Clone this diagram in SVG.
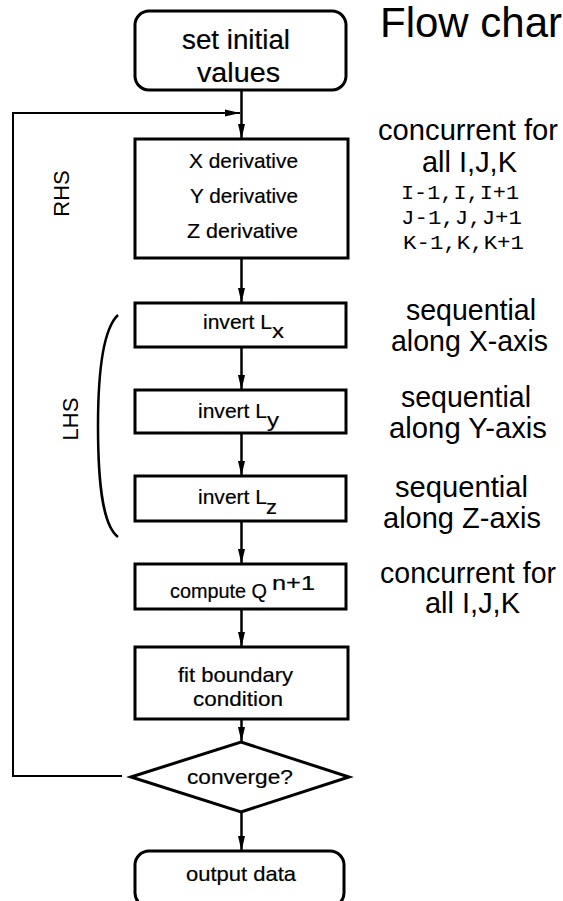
<svg xmlns="http://www.w3.org/2000/svg" width="563" height="901" viewBox="0 0 563 901">
<style>
text{font-family:"Liberation Sans",Arial,sans-serif;fill:#000}
.box{fill:#fff;stroke:#000;stroke-width:3}
.bt{font-size:21px;stroke:#000;stroke-width:0.2}
.big{font-size:27px}
.rt{font-size:29px}
.mono{font-family:"Liberation Mono","Courier New",monospace;font-size:20px}
.conn{fill:none;stroke:#000;stroke-width:2.5}
.loop{fill:none;stroke:#000;stroke-width:2}
</style>
<defs>
<marker id="ah" markerUnits="userSpaceOnUse" markerWidth="16" markerHeight="8" refX="15" refY="4" orient="auto">
<path d="M0,0.5 L15,4 L0,7.5 z" fill="#000"/>
</marker>
</defs>
<rect width="563" height="901" fill="#fff"/>

<g id="connectors">
<line class="conn" x1="241.5" y1="90" x2="241.5" y2="139" marker-end="url(#ah)"/>
<line class="conn" x1="241.5" y1="258" x2="241.5" y2="303" marker-end="url(#ah)"/>
<line class="conn" x1="241.5" y1="347" x2="241.5" y2="390" marker-end="url(#ah)"/>
<line class="conn" x1="241.5" y1="433" x2="241.5" y2="476" marker-end="url(#ah)"/>
<line class="conn" x1="241.5" y1="521" x2="241.5" y2="564" marker-end="url(#ah)"/>
<line class="conn" x1="241.5" y1="609" x2="241.5" y2="647" marker-end="url(#ah)"/>
<line class="conn" x1="241.5" y1="719" x2="241.5" y2="742" marker-end="url(#ah)"/>
<line class="conn" x1="241.5" y1="812" x2="241.5" y2="851" marker-end="url(#ah)"/>
<polyline class="loop" points="122,776 13,776 13,113 240,113" marker-end="url(#ah)"/>
</g>

<g id="set-initial">
<rect class="box" x="135" y="11" width="211" height="79" rx="14"/>
<text class="bt big" x="182" y="49" textLength="108" lengthAdjust="spacingAndGlyphs">set initial</text>
<text class="bt big" x="197" y="82" textLength="83" lengthAdjust="spacingAndGlyphs">values</text>
</g>

<g id="derivatives">
<rect class="box" x="135" y="139" width="213" height="119"/>
<text class="bt" x="189" y="168" textLength="109" lengthAdjust="spacingAndGlyphs">X derivative</text>
<text class="bt" x="190" y="203" textLength="108" lengthAdjust="spacingAndGlyphs">Y derivative</text>
<text class="bt" x="187" y="238" textLength="111" lengthAdjust="spacingAndGlyphs">Z derivative</text>
</g>

<g id="invert-lx">
<rect class="box" x="135" y="303" width="211" height="44"/>
<text class="bt" x="203" y="329" font-size="20" textLength="69" lengthAdjust="spacingAndGlyphs">invert L</text>
<text class="bt" x="272" y="338" font-size="18" textLength="12" lengthAdjust="spacingAndGlyphs">x</text>
</g>

<g id="invert-ly">
<rect class="box" x="135" y="390" width="211" height="43"/>
<text class="bt" x="198" y="418" font-size="20" textLength="69" lengthAdjust="spacingAndGlyphs">invert L</text>
<text class="bt" x="267" y="427" font-size="18" textLength="12" lengthAdjust="spacingAndGlyphs">y</text>
</g>

<g id="invert-lz">
<rect class="box" x="135" y="476" width="211" height="45"/>
<text class="bt" x="198" y="504" font-size="20" textLength="69" lengthAdjust="spacingAndGlyphs">invert L</text>
<text class="bt" x="266" y="514" font-size="18" textLength="11" lengthAdjust="spacingAndGlyphs">z</text>
</g>

<g id="compute-q">
<rect class="box" x="135" y="564" width="211" height="45"/>
<text class="bt" x="170" y="598" textLength="97" lengthAdjust="spacingAndGlyphs">compute Q</text>
<text class="bt" x="272" y="590" font-size="18" textLength="43" lengthAdjust="spacingAndGlyphs">n+1</text>
</g>

<g id="fit-boundary">
<rect class="box" x="135" y="647" width="213" height="72"/>
<text class="bt" x="178" y="682" textLength="115" lengthAdjust="spacingAndGlyphs">fit boundary</text>
<text class="bt" x="193" y="706" textLength="90" lengthAdjust="spacingAndGlyphs">condition</text>
</g>

<g id="converge">
<polygon class="box" points="131,777 241,742 349,777 241,812"/>
<text class="bt" x="187" y="784" textLength="106" lengthAdjust="spacingAndGlyphs">converge?</text>
</g>

<g id="output-data">
<rect class="box" x="135" y="851" width="209" height="56" rx="14"/>
<text class="bt" x="186" y="881" textLength="110" lengthAdjust="spacingAndGlyphs">output data</text>
</g>

<g id="labels">
<text x="380" y="37" font-size="42">Flow char</text>
<text class="rt" x="378" y="140" textLength="180" lengthAdjust="spacingAndGlyphs">concurrent for</text>
<text class="rt" x="422" y="172" textLength="95" lengthAdjust="spacingAndGlyphs">all I,J,K</text>
<text class="mono" x="401" y="199" textLength="118" lengthAdjust="spacingAndGlyphs">I-1,I,I+1</text>
<text class="mono" x="401" y="224" textLength="121" lengthAdjust="spacingAndGlyphs">J-1,J,J+1</text>
<text class="mono" x="403" y="249" textLength="121" lengthAdjust="spacingAndGlyphs">K-1,K,K+1</text>
<text class="rt" x="406" y="320" textLength="130" lengthAdjust="spacingAndGlyphs">sequential</text>
<text class="rt" x="391" y="351" textLength="157" lengthAdjust="spacingAndGlyphs">along X-axis</text>
<text class="rt" x="401" y="407" textLength="130" lengthAdjust="spacingAndGlyphs">sequential</text>
<text class="rt" x="389" y="438" textLength="158" lengthAdjust="spacingAndGlyphs">along Y-axis</text>
<text class="rt" x="395" y="497" textLength="133" lengthAdjust="spacingAndGlyphs">sequential</text>
<text class="rt" x="383" y="528" textLength="158" lengthAdjust="spacingAndGlyphs">along Z-axis</text>
<text class="rt" x="380" y="583" textLength="176" lengthAdjust="spacingAndGlyphs">concurrent for</text>
<text class="rt" x="425" y="613" textLength="95" lengthAdjust="spacingAndGlyphs">all I,J,K</text>
<text transform="translate(69,193.5) rotate(-90)" text-anchor="middle" font-size="22">RHS</text>
<text transform="translate(78,419) rotate(-90)" text-anchor="middle" font-size="22">LHS</text>
<path d="M118,315 C102,330 98,380 98,426 C98,480 102,525 118,537" fill="none" stroke="#000" stroke-width="2.5"/>
</g>
</svg>
